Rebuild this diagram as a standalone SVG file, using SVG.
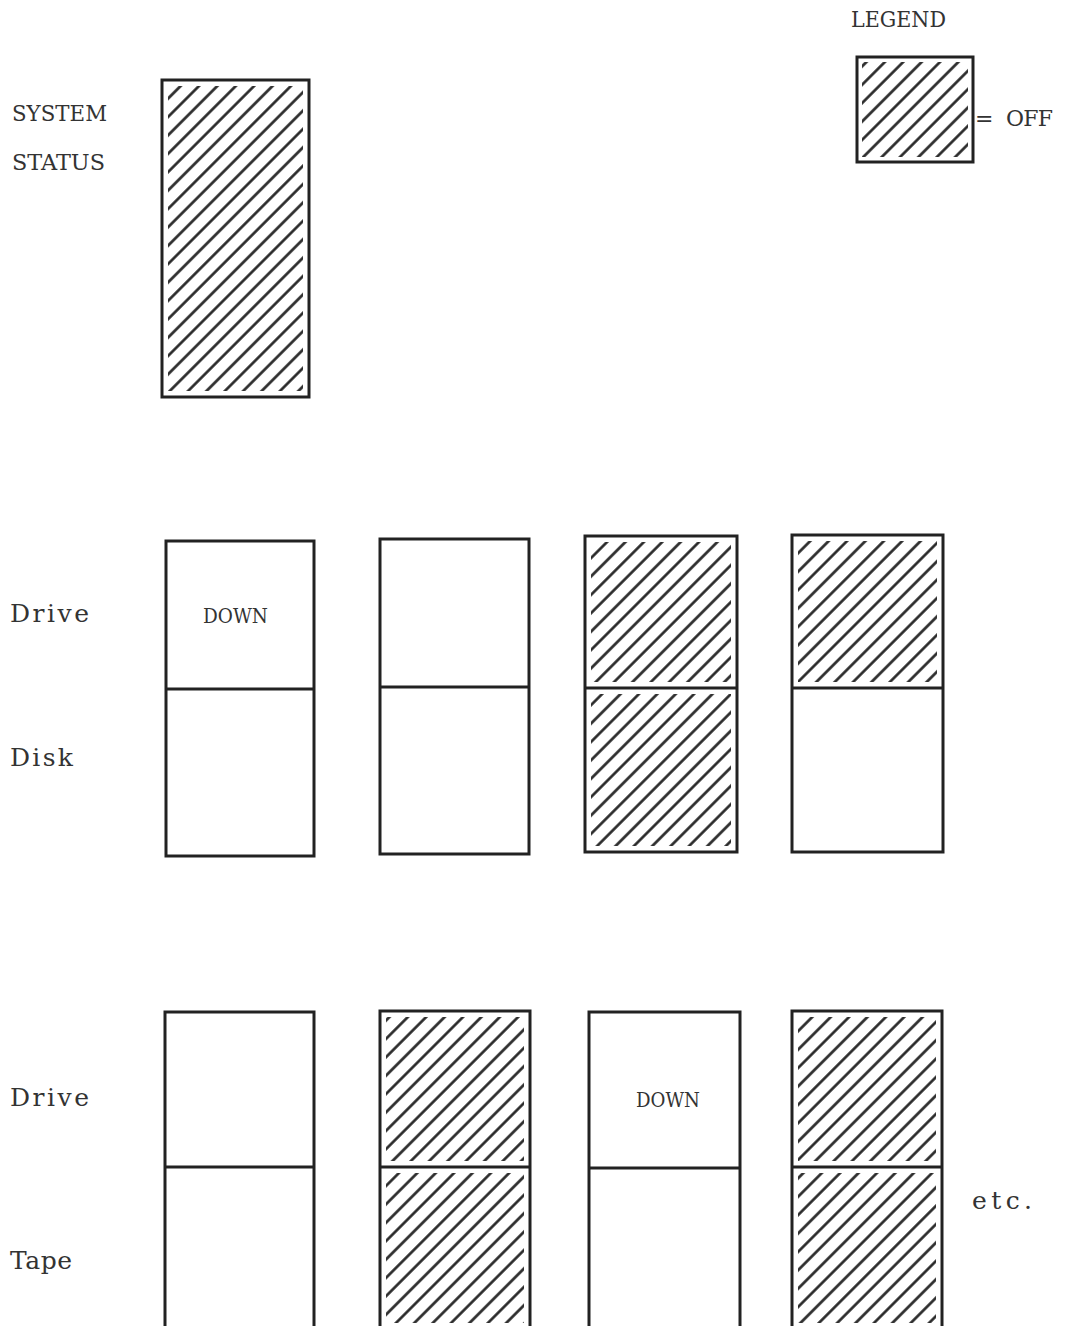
<svg xmlns="http://www.w3.org/2000/svg" width="1067" height="1326" viewBox="0 0 1067 1326">
<style>
.box{fill:none;stroke:#222;stroke-width:3}
.div{stroke:#222;stroke-width:3}
.hat{fill:url(#hatch)}
.lbl{font-family:"DejaVu Serif","Liberation Serif",serif;font-size:22px;fill:#333}
.low{font-family:"DejaVu Serif","Liberation Serif",serif;font-size:25px;fill:#333}
.dn{font-family:"DejaVu Serif","Liberation Serif",serif;font-size:20px;fill:#333}
</style>
<defs>
<pattern id="hatch" patternUnits="userSpaceOnUse" width="13" height="13" patternTransform="rotate(-45)">
<line x1="0" y1="6.5" x2="13" y2="6.5" stroke="#222" stroke-width="2.6"/>
</pattern>
</defs>
<rect width="1067" height="1326" fill="#fff"/>
<text class="lbl" x="851" y="27" textLength="95" lengthAdjust="spacingAndGlyphs">LEGEND</text>
<g id="legend">
<rect class="hat" x="862" y="62" width="106" height="95"/>
<rect class="box" x="857" y="57" width="116" height="105"/>
<text class="lbl" x="975" y="126">=</text>
<text class="lbl" x="1006" y="126" textLength="47" lengthAdjust="spacing">OFF</text>
</g>
<text class="lbl" x="12" y="121" textLength="95" lengthAdjust="spacingAndGlyphs">SYSTEM</text>
<text class="lbl" x="12" y="170" textLength="93" lengthAdjust="spacingAndGlyphs">STATUS</text>
<g id="system-status">
<rect class="hat" x="168" y="86" width="135" height="305"/>
<rect class="box" x="162" y="80" width="147" height="317"/>
</g>
<text class="low" x="10" y="622" textLength="79" lengthAdjust="spacing">Drive</text>
<text class="low" x="10" y="766" textLength="63" lengthAdjust="spacing">Disk</text>
<g id="disk1">
<rect class="box" x="166" y="541" width="148" height="315"/>
<line class="div" x1="166" y1="689" x2="314" y2="689"/>
<text class="dn" x="203" y="623" textLength="65" lengthAdjust="spacingAndGlyphs">DOWN</text>
</g>
<g id="disk2">
<rect class="box" x="380" y="539" width="149" height="315"/>
<line class="div" x1="380" y1="687" x2="529" y2="687"/>
</g>
<g id="disk3">
<rect class="hat" x="591" y="542" width="140" height="140"/>
<rect class="hat" x="591" y="694" width="140" height="152"/>
<rect class="box" x="585" y="536" width="152" height="316"/>
<line class="div" x1="585" y1="688" x2="737" y2="688"/>
</g>
<g id="disk4">
<rect class="hat" x="798" y="541" width="139" height="141"/>
<rect class="box" x="792" y="535" width="151" height="317"/>
<line class="div" x1="792" y1="688" x2="943" y2="688"/>
</g>
<text class="low" x="10" y="1106" textLength="79" lengthAdjust="spacing">Drive</text>
<text class="low" x="10" y="1269" textLength="62" lengthAdjust="spacing">Tape</text>
<g id="tape1">
<rect class="box" x="165" y="1012" width="149" height="330"/>
<line class="div" x1="165" y1="1167" x2="314" y2="1167"/>
</g>
<g id="tape2">
<rect class="hat" x="386" y="1017" width="138" height="144"/>
<rect class="hat" x="386" y="1173" width="138" height="150"/>
<rect class="box" x="380" y="1011" width="150" height="331"/>
<line class="div" x1="380" y1="1167" x2="530" y2="1167"/>
</g>
<g id="tape3">
<rect class="box" x="589" y="1012" width="151" height="330"/>
<line class="div" x1="589" y1="1168" x2="740" y2="1168"/>
<text class="dn" x="636" y="1107" textLength="64" lengthAdjust="spacingAndGlyphs">DOWN</text>
</g>
<g id="tape4">
<rect class="hat" x="798" y="1017" width="138" height="144"/>
<rect class="hat" x="798" y="1173" width="138" height="150"/>
<rect class="box" x="792" y="1011" width="150" height="331"/>
<line class="div" x1="792" y1="1167" x2="942" y2="1167"/>
</g>
<text class="low" x="972" y="1209" textLength="60" lengthAdjust="spacing">etc.</text>
<g id="connectors"/>
</svg>
